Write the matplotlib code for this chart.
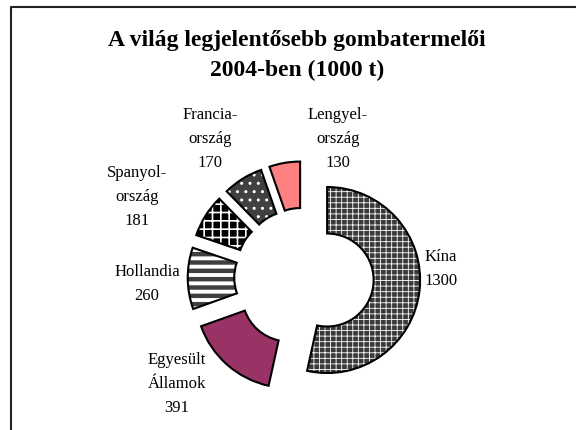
import matplotlib.pyplot as plt
from matplotlib.lines import Line2D

plt.rcParams['font.family'] = ['Liberation Serif', 'DejaVu Serif']
plt.rcParams['hatch.linewidth'] = 1.0

# data
countries = ['Kína', 'Egyesült\nÁllamok', 'Hollandia', 'Spanyol-\nország', 'Francia-\nország', 'Lengyel-\nország']
values = [1300, 391, 260, 181, 170, 130]

# styles per slice
face_colors = ['#3a3a3a', '#993366', 'white', '#000000', '#404040', '#ff8080']
hatches = ['+++', '', '--', '++', '..', '']
hatch_colors = ['white', 'white', '#404040', 'white', 'white', 'white']
hatch_widths = [0.6, 1.0, 3.2, 1.2, 1.0, 1.0]
# label centres in pixels (x, y from top)
label_pos = [(441, 269), (177, 384), (147, 284), (137, 197), (210, 139), (338, 139)]

W, H = 576, 430
fig = plt.figure(figsize=(W / 100, H / 100), dpi=100)

# pie axes: centre (304, 277.5) px, radius 93 px
half = 1.6
r_px = 93
cx, cy = 304, 277.5
ax = fig.add_axes([(cx - half * r_px) / W, (H - cy - half * r_px) / H,
                   2 * half * r_px / W, 2 * half * r_px / H])

explode = [0.25] * len(values)

# hatched fill layer
wedges, _ = ax.pie(values, startangle=90, counterclock=False, explode=explode,
                   colors=face_colors, wedgeprops=dict(width=0.5, linewidth=0))
for w, h, hc, hw in zip(wedges, hatches, hatch_colors, hatch_widths):
    if h:
        w.set_hatch(h)
        w.set_edgecolor(hc)
        if hasattr(w, 'set_hatch_linewidth'):
            w.set_hatch_linewidth(hw)

# outline layer
ax.pie(values, startangle=90, counterclock=False, explode=explode,
       colors=['none'] * len(values), wedgeprops=dict(width=0.5, linewidth=1.5, edgecolor='black'))
ax.set_xlim(-half, half)
ax.set_ylim(-half, half)
ax.axis('off')

# labels
for name, v, (px, py) in zip(countries, values, label_pos):
    fig.text(px / W, 1 - py / H, f'{name}\n{v}', ha='center', va='center',
             fontsize=12, linespacing=1.65)

# title
fig.text(297 / W, 1 - 56 / H, 'A világ legjelentősebb gombatermelői\n2004-ben (1000 t)',
         ha='center', va='center', fontsize=17, fontweight='bold', linespacing=1.55)

# frame (left and top only)
fig.add_artist(Line2D([11 / W, 11 / W, 1], [0, 1 - 7 / H, 1 - 7 / H],
                      transform=fig.transFigure, color='#222222', linewidth=1.5))

plt.savefig('out.png', dpi=100)
